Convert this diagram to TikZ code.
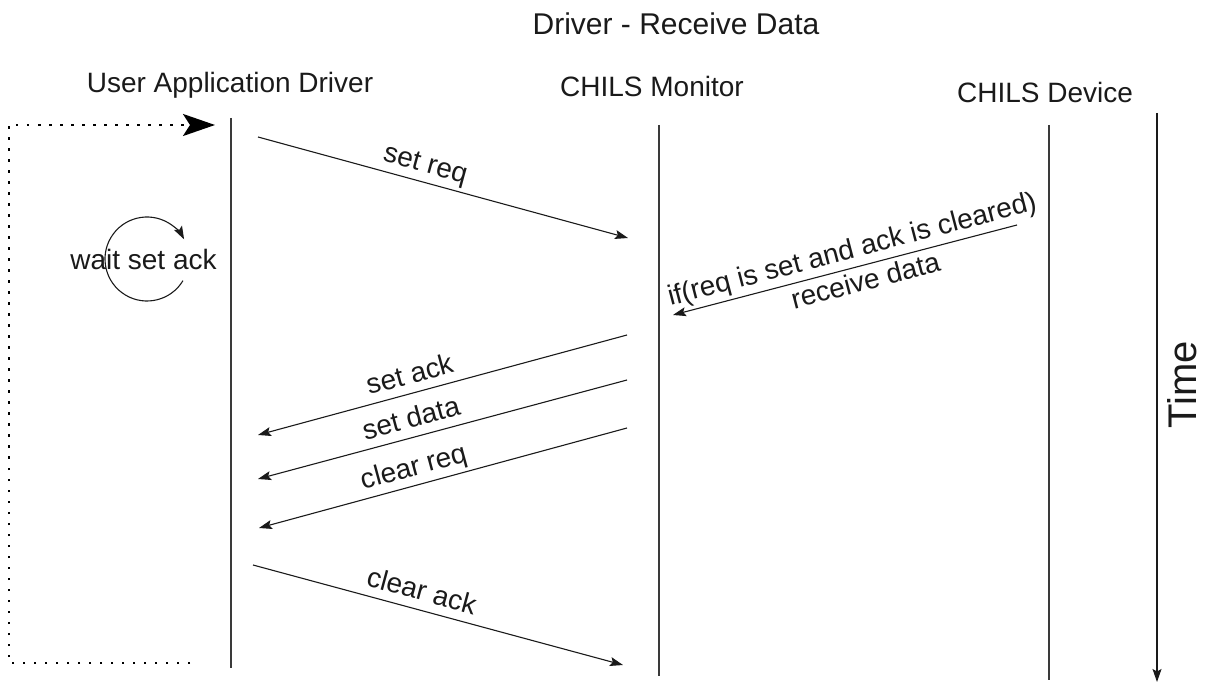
\documentclass[tikz,border=0pt]{standalone}
\usepackage{fontspec}
\setmainfont{Liberation Sans}
\usetikzlibrary{arrows.meta}
\definecolor{ink}{HTML}{1A1A1A}
\definecolor{lifegray}{HTML}{3A3A3A}

\begin{document}
\begin{tikzpicture}[x=1pt, y=-1pt,
  hdr/.style={font=\fontsize{28}{34}\selectfont, text=ink, anchor=base, inner sep=0pt},
  lifeline/.style={draw=lifegray, line width=1.8pt},
  msg/.style={draw=ink, line width=1.1pt, -{Stealth[length=13pt, width=9pt, inset=2.5pt]}},
  lbl/.style={font=\fontsize{28}{34}\selectfont, text=ink, inner sep=0pt,
              text height=20pt, text depth=6pt, sloped},
  loopline/.style={draw=black, line width=2.5pt, dash pattern=on 2.5pt off 8.5pt,
                   -{Stealth[length=32pt, width=22pt, inset=7pt]}},
  spin/.style={draw=ink, line width=1.1pt, -{Stealth[length=13pt, width=9pt, inset=2.5pt]}},
]
\useasboundingbox (0,0) rectangle (1208,684);

% title and column headers
\node[hdr, font=\fontsize{30}{36}\selectfont] (title) at (676,35) {Driver - Receive Data};
\node[hdr] (hUser) at (230,93) {User Application Driver};
\node[hdr] (hMon)  at (652,97) {CHILS Monitor};
\node[hdr] (hDev)  at (1045,103) {CHILS Device};

% lifelines
\coordinate (uTop) at (231,118);  \coordinate (uBot) at (231,668);
\coordinate (mTop) at (659,125);  \coordinate (mBot) at (659,676);
\coordinate (dTop) at (1049,125); \coordinate (dBot) at (1049,680);
\draw[lifeline] (uTop) -- (uBot);
\draw[lifeline] (mTop) -- (mBot);
\draw[lifeline] (dTop) -- (dBot);

% time axis
\coordinate (tTop) at (1157,113); \coordinate (tBot) at (1157,682);
\draw[msg] (tTop) -- (tBot);
\node[hdr, font=\fontsize{40}{46}\selectfont, rotate=90] (time) at (1196,385) {Time};

% repeat loop of the driver
\coordinate (lpA) at (190,663); \coordinate (lpB) at (9,663);
\coordinate (lpC) at (9,125);   \coordinate (lpD) at (215,125);
\draw[loopline] (lpA) -- (lpB) -- (lpC) -- (lpD);

% busy wait
\node[hdr] (wait) at (143.5,270) {wait set ack};
\coordinate (spinC) at (147,259);
\draw[spin] ([shift={(31:42)}]spinC) arc[start angle=31, end angle=332, radius=42];

% message end points
\coordinate (sr1) at (258,137);  \coordinate (sr2) at (628,238);
\coordinate (rd1) at (1017,225); \coordinate (rd2) at (673,315);
\coordinate (sa1) at (627,335);  \coordinate (sa2) at (258,435);
\coordinate (sd1) at (627,380);  \coordinate (sd2) at (258,479);
\coordinate (cr1) at (627,428);  \coordinate (cr2) at (259,528);
\coordinate (ca1) at (253,565);  \coordinate (ca2) at (623,665);

% messages
\draw[msg] (sr1) -- node[lbl, pos=.44, above=3pt] (lSetReq) {set req} (sr2);
\draw[msg] (rd1) -- node[lbl, pos=.466, above=3pt] (lIf) {if(req is set and ack is cleared)}
                    node[lbl, pos=.452, below=4.5pt] (lRecv) {receive data} (rd2);
\draw[msg] (sa1) -- node[lbl, pos=.575, above=3pt] (lSetAck) {set ack} (sa2);
\draw[msg] (sd1) -- node[lbl, pos=.572, above=3pt] (lSetData) {set data} (sd2);
\draw[msg] (cr1) -- node[lbl, pos=.566, above=3pt] (lClrReq) {clear req} (cr2);
\draw[msg] (ca1) -- node[lbl, pos=.443, above=3pt] (lClrAck) {clear ack} (ca2);
\end{tikzpicture}
\end{document}
